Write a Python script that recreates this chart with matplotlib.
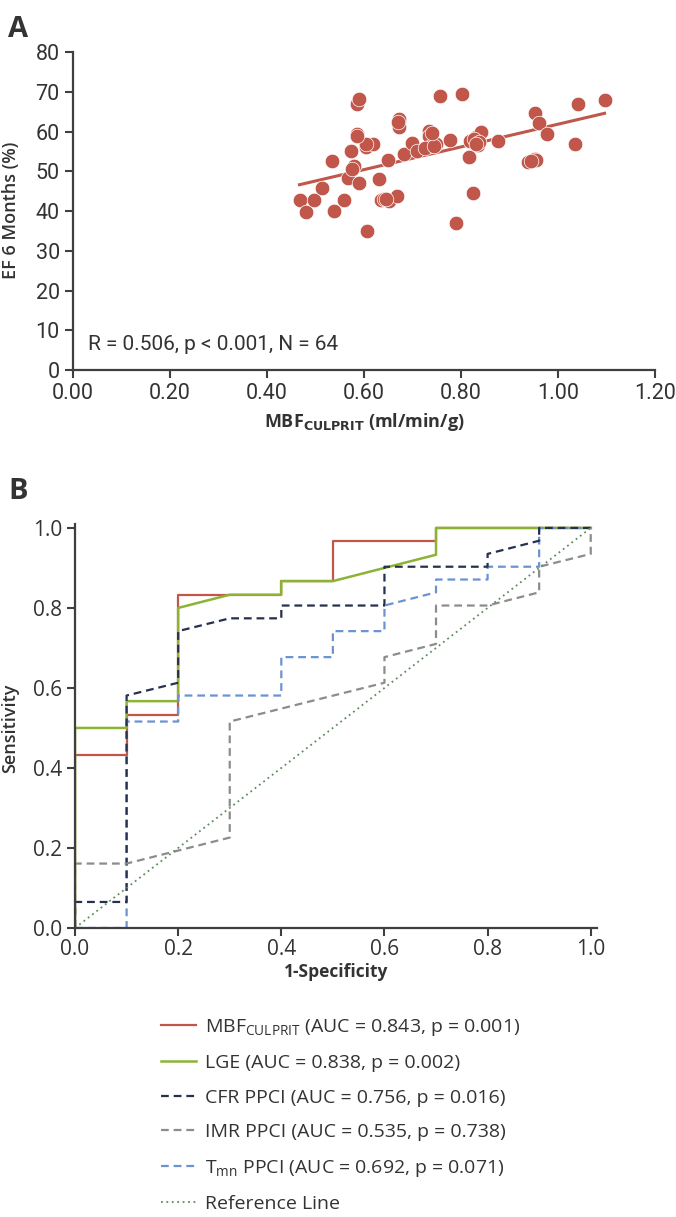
import numpy as np
import matplotlib
matplotlib.use("Agg")
import matplotlib.pyplot as plt

plt.rcParams['font.family'] = ['Open Sans', 'DejaVu Sans']
plt.rcParams['mathtext.default'] = 'regular'

# ---- panel A data: MBF culprit vs EF at 6 months ----
mbf = [0.467, 0.481, 0.497, 0.514, 0.535, 0.539, 0.558, 0.566, 0.573, 0.579,
       0.585, 0.586, 0.590, 0.590, 0.604, 0.607, 0.618, 0.631, 0.636, 0.642,
       0.649, 0.652, 0.668, 0.672, 0.673, 0.682, 0.698, 0.710, 0.733, 0.734,
       0.738, 0.749, 0.756, 0.778, 0.790, 0.802, 0.816, 0.819, 0.824, 0.831,
       0.835, 0.841, 0.877, 0.939, 0.953, 0.953, 0.960, 0.977, 1.036, 1.042,
       1.096,
       # overlapping points
       0.725, 0.745, 0.827, 0.838, 0.605, 0.575, 0.645, 0.955, 0.945, 0.585,
       0.740, 0.830, 0.670]
ef = [42.9, 39.7, 42.9, 45.9, 52.6, 40.1, 42.9, 48.4, 55.2, 51.3,
      59.4, 66.9, 68.3, 47.0, 56.1, 35.1, 57.0, 48.1, 42.8, 43.1,
      53.0, 42.5, 43.8, 63.3, 61.3, 54.4, 57.2, 55.1, 60.3, 59.0,
      56.3, 57.0, 69.1, 57.9, 37.1, 69.6, 53.6, 57.7, 44.5, 58.8,
      56.7, 59.9, 57.6, 52.4, 53.2, 64.7, 62.2, 59.5, 56.8, 66.9,
      67.9,
      55.8, 56.3, 58.2, 57.5, 56.8, 50.5, 43.0, 53.0, 52.6, 59.0,
      59.6, 57.0, 62.5]
fit_slope = 28.6
fit_intercept = 33.3

# ---- panel B data: ROC curves ----
mbf_fpr = [0, 0, 0.1, 0.1, 0.2, 0.2, 0.4, 0.4, 0.5, 0.5, 0.7, 0.7, 1.0]
mbf_tpr = [0, 0.433, 0.433, 0.533, 0.533, 0.833, 0.833, 0.867, 0.867, 0.967, 0.967, 1.0, 1.0]

lge_fpr = [0, 0, 0.1, 0.1, 0.2, 0.2, 0.3, 0.4, 0.4, 0.5, 0.7, 0.7, 1.0]
lge_tpr = [0, 0.5, 0.5, 0.567, 0.567, 0.8, 0.833, 0.833, 0.867, 0.867, 0.933, 1.0, 1.0]

cfr_fpr = [0, 0, 0.1, 0.1, 0.2, 0.2, 0.3, 0.4, 0.4, 0.6, 0.6, 0.8, 0.8, 0.9, 0.9, 1.0]
cfr_tpr = [0, 0.065, 0.065, 0.581, 0.613, 0.742, 0.774, 0.774, 0.806, 0.806, 0.903, 0.903, 0.935, 0.968, 1.0, 1.0]

imr_fpr = [0, 0, 0.1, 0.3, 0.3, 0.6, 0.6, 0.7, 0.7, 0.8, 0.9, 0.9, 1.0, 1.0]
imr_tpr = [0, 0.161, 0.161, 0.226, 0.516, 0.613, 0.677, 0.710, 0.806, 0.806, 0.839, 0.903, 0.935, 1.0]

tmn_fpr = [0, 0.1, 0.1, 0.2, 0.2, 0.4, 0.4, 0.5, 0.5, 0.6, 0.6, 0.7, 0.7, 0.8, 0.8, 0.9, 0.9, 1.0]
tmn_tpr = [0, 0, 0.516, 0.516, 0.581, 0.581, 0.677, 0.677, 0.742, 0.742, 0.806, 0.839, 0.871, 0.871, 0.903, 0.903, 1.0, 1.0]

ref_line = [0, 1]

labels = [r"MBF$_{CULPRIT}$ (AUC = 0.843, p = 0.001)",
          "LGE (AUC = 0.838, p = 0.002)",
          "CFR PPCI (AUC = 0.756, p = 0.016)",
          "IMR PPCI (AUC = 0.535, p = 0.738)",
          r"T$_{mn}$ PPCI (AUC = 0.692, p = 0.071)",
          "Reference Line"]

red = '#C0574A'
green = '#8DB335'
navy = '#26304F'
grey = '#8C8C8C'
lblue = '#6B93D2'
refc = '#5E8C5E'
axc = '#3F3F3F'
txt = '#333333'
narrow = ['Roboto', 'DejaVu Sans']

fig = plt.figure(figsize=(6.76, 12.17), dpi=100)

# ---------------- panel A ----------------
axA = fig.add_axes([0.108, 0.696, 0.861, 0.261])
x = np.array(mbf)
axA.scatter(x, ef, s=110, color=red, edgecolor='white', linewidth=0.5, zorder=3)
xf = np.array([x.min(), x.max()])
axA.plot(xf, fit_intercept + fit_slope * xf, color=red, lw=2.2, zorder=2)

axA.set_xlim(0, 1.2)
axA.set_ylim(0, 80)
axA.set_xticks(np.arange(0, 1.21, 0.2))
axA.set_yticks(np.arange(0, 81, 10))
axA.set_xticklabels([f"{v:.2f}" for v in np.arange(0, 1.21, 0.2)], family=narrow)
axA.set_yticklabels([str(v) for v in range(0, 81, 10)], family=narrow)
axA.tick_params(labelsize=15.5, colors=axc, labelcolor=txt, width=1.5, length=6)
for s in ['top', 'right']:
    axA.spines[s].set_visible(False)
for s in ['left', 'bottom']:
    axA.spines[s].set_color(axc)
    axA.spines[s].set_linewidth(1.6)
fig.text(11 / 676, 1 - 210 / 1217, "EF 6 Months (%)", rotation=90, fontsize=13,
         fontweight='semibold', color=txt, ha='center', va='center')
axA.set_xlabel(r"MBF$_{\mathbf{CULPRIT}}$ (ml/min/g)", fontsize=13, fontweight='bold',
               color=txt, labelpad=5)
axA.text(0.03, 6.5, "R = 0.506, p < 0.001, N = 64", fontsize=15, color=txt,
         va='center', family=narrow)

fig.text(0.012, 0.988, "A", fontsize=21, fontweight='bold', color=txt, va='top')

# ---------------- panel B ----------------
axB = fig.add_axes([0.111, 0.2375, 0.772, 0.332])
axB.plot(mbf_fpr, mbf_tpr, color=red, lw=1.6, label=labels[0])
axB.plot(lge_fpr, lge_tpr, color=green, lw=1.8, label=labels[1])
axB.plot(tmn_fpr, tmn_tpr, color=lblue, lw=1.6, ls=(0, (3.5, 2.2)), label=labels[4])
axB.plot(cfr_fpr, cfr_tpr, color=navy, lw=1.6, ls=(0, (3.5, 2.2)), label=labels[2])
axB.plot(imr_fpr, imr_tpr, color=grey, lw=1.6, ls=(0, (3.5, 2.2)), label=labels[3])
axB.plot(ref_line, ref_line, color=refc, lw=1.3, ls=(0, (1, 2)), label=labels[5])

axB.set_xlim(0, 1.012)
axB.set_ylim(0, 1.01)
axB.set_xticks(np.arange(0, 1.01, 0.2))
axB.set_yticks(np.arange(0, 1.01, 0.2))
axB.set_xticklabels([f"{v:.1f}" for v in np.arange(0, 1.01, 0.2)])
axB.set_yticklabels([f"{v:.1f}" for v in np.arange(0, 1.01, 0.2)])
axB.tick_params(labelsize=15, colors=axc, labelcolor=txt, width=1.5, length=6)
axB.tick_params(axis='x', pad=2)
for s in ['top', 'right']:
    axB.spines[s].set_visible(False)
for s in ['left', 'bottom']:
    axB.spines[s].set_color(axc)
    axB.spines[s].set_linewidth(1.6)
fig.text(10 / 676, 1 - 728 / 1217, "Sensitivity", rotation=90, fontsize=13,
         fontweight='semibold', color=txt, ha='center', va='center')
axB.set_xlabel("1-Specificity", fontsize=12.5, fontweight='bold', color=txt, labelpad=2)

fig.text(0.012, 0.608, "B", fontsize=21, fontweight='bold', color=txt, va='top')

# legend in the original order
h, l = axB.get_legend_handles_labels()
hd = {lab: hh for hh, lab in zip(h, l)}
fig.legend([hd[t] for t in labels], labels, loc='upper left',
           bbox_to_anchor=(0.213, 0.179), frameon=False, fontsize=14,
           handlelength=1.8, handletextpad=0.45, labelspacing=0.85,
           labelcolor=txt)

fig.savefig("out.png", dpi=100)
